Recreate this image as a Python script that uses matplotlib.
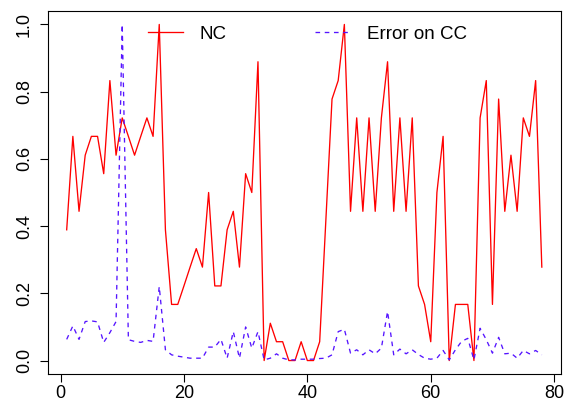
import matplotlib
matplotlib.use("Agg")
import matplotlib.pyplot as plt
import numpy as np

plt.rcParams["font.family"] = ["Liberation Sans", "DejaVu Sans"]

idx = np.arange(1, 79)

nc = [0.389, 0.667, 0.444, 0.611, 0.667, 0.667, 0.556, 0.833, 0.611, 0.722,
      0.667, 0.611, 0.667, 0.722, 0.667, 1.0, 0.389, 0.167, 0.167, 0.222,
      0.278, 0.333, 0.278, 0.5, 0.222, 0.222, 0.389, 0.444, 0.278, 0.556,
      0.5, 0.889, 0.0, 0.111, 0.056, 0.056, 0.0, 0.0, 0.056, 0.0,
      0.0, 0.056, 0.417, 0.778, 0.833, 1.0, 0.444, 0.722, 0.444, 0.722,
      0.444, 0.722, 0.889, 0.444, 0.722, 0.444, 0.722, 0.222, 0.167, 0.056,
      0.5, 0.667, 0.0, 0.167, 0.167, 0.167, 0.0, 0.722, 0.833, 0.167,
      0.778, 0.444, 0.611, 0.444, 0.722, 0.667, 0.833, 0.278]

err_cc = [0.063, 0.103, 0.063, 0.116, 0.118, 0.115, 0.054, 0.083, 0.116, 1.0,
          0.062, 0.057, 0.054, 0.06, 0.057, 0.22, 0.032, 0.017, 0.013, 0.01,
          0.007, 0.007, 0.007, 0.04, 0.04, 0.063, 0.007, 0.086, 0.007, 0.1,
          0.037, 0.086, 0.002, 0.007, 0.02, 0.007, 0.002, 0.002, 0.004, 0.004,
          0.004, 0.006, 0.007, 0.017, 0.086, 0.093, 0.022, 0.032, 0.017, 0.032,
          0.02, 0.037, 0.146, 0.017, 0.034, 0.02, 0.032, 0.018, 0.007, 0.004,
          0.007, 0.03, 0.002, 0.032, 0.057, 0.066, 0.002, 0.096, 0.062, 0.022,
          0.069, 0.02, 0.022, 0.007, 0.03, 0.02, 0.03, 0.017]

fig = plt.figure(figsize=(5.67, 4.03), dpi=100)
ax = fig.add_axes([0.0841, 0.072, 0.905, 0.9007])

ax.plot(idx, nc, color="red", linewidth=0.95, label="NC")
ax.plot(idx, err_cc, color="#5514ff", linewidth=0.95, linestyle=(0, (3.5, 3.5)),
        label="Error on CC")

ax.set_xlim(1 - 0.04 * 77, 78 + 0.04 * 77)
ax.set_ylim(-0.04, 1.04)
ax.set_xticks([0, 20, 40, 60, 80])
ax.set_yticks([0.0, 0.2, 0.4, 0.6, 0.8, 1.0])
ax.set_yticklabels(["0.0", "0.2", "0.4", "0.6", "0.8", "1.0"], rotation=90,
                   va="center")
ax.tick_params(labelsize=13, length=5.5, width=0.8)
ax.tick_params(axis="x", pad=2.5)
ax.tick_params(axis="y", pad=5)
for s in ax.spines.values():
    s.set_linewidth(0.8)

ax.legend(loc="center left", bbox_to_anchor=(0.1955, 0.9366), ncol=2,
          frameon=False, fontsize=13.5, borderpad=0, borderaxespad=0,
          handlelength=1.87, handletextpad=0.9, columnspacing=4.7)

fig.savefig("out.png", dpi=100)
